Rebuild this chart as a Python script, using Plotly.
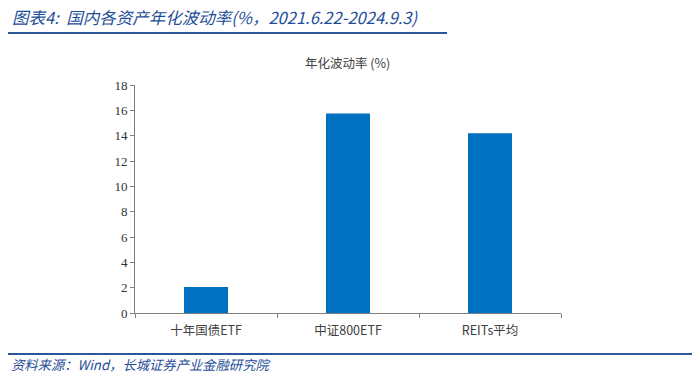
import plotly.graph_objects as go

categories = ["十年国债ETF", "中证800ETF", "REITs平均"]
volatility = [2.05, 15.75, 14.2]
y_ticks = [0, 2, 4, 6, 8, 10, 12, 14, 16, 18]

fig = go.Figure()
fig.add_trace(go.Bar(
    x=categories, y=volatility,
    marker=dict(color="#0070C0", line=dict(width=0)),
    width=0.31,
))

W, H = 700, 382
L, R = 135, 561
T, B = 85, 313
fig.update_layout(
    width=W, height=H,
    margin=dict(l=L, r=W - R, t=T, b=H - B),
    plot_bgcolor="white", paper_bgcolor="white",
    showlegend=False,
    font=dict(family="'Liberation Serif', 'Times New Roman', serif", size=12, color="#333"),
    xaxis=dict(
        showline=True, linecolor="#808080", linewidth=1,
        ticks="outside", tickson="boundaries", ticklen=4, tickcolor="#808080",
        tickfont=dict(family="'Noto Sans CJK SC'", size=12.5, color="#404040"),
        ticklabelstandoff=6,
        showgrid=False, fixedrange=True,
    ),
    yaxis=dict(
        range=[0, 18], tickvals=y_ticks,
        showline=True, linecolor="#808080", linewidth=1,
        ticks="outside", ticklen=4, tickcolor="#808080",
        tickfont=dict(family="'Liberation Serif', serif", size=13, color="#333"),
        showgrid=False, zeroline=False, fixedrange=True,
    ),
)

def px_to_paper_x(px):
    return (px - L) / (R - L)

def px_to_paper_y(py):
    return (B - py) / (B - T)

fig.layout.shapes = [
    dict(type="line", xref="paper", yref="paper",
         x0=px_to_paper_x(8), x1=px_to_paper_x(447),
         y0=px_to_paper_y(33), y1=px_to_paper_y(33),
         line=dict(color="#2B579A", width=2)),
    dict(type="line", xref="paper", yref="paper",
         x0=px_to_paper_x(8), x1=px_to_paper_x(692),
         y0=px_to_paper_y(354), y1=px_to_paper_y(354),
         line=dict(color="#2B579A", width=2)),
]

fig.add_annotation(
    text="<i>图表4:  国内各资产年化波动率(%，2021.6.22-2024.9.3)</i>",
    xref="paper", yref="paper", x=px_to_paper_x(10), y=px_to_paper_y(17),
    xanchor="left", yanchor="middle", showarrow=False,
    font=dict(family="Noto Sans CJK SC", size=16.5, color="#1F4E99"),
)
fig.add_annotation(
    text="年化波动率 (%)",
    xref="paper", yref="paper", x=px_to_paper_x(347), y=px_to_paper_y(63),
    xanchor="center", yanchor="middle", showarrow=False,
    font=dict(family="Noto Sans CJK SC", size=12.5, color="#404040"),
)
fig.add_annotation(
    text="<i>资料来源：Wind，长城证券产业金融研究院</i>",
    xref="paper", yref="paper", x=px_to_paper_x(9), y=px_to_paper_y(364),
    xanchor="left", yanchor="middle", showarrow=False,
    font=dict(family="Noto Sans CJK SC", size=13.3, color="#1F4E99"),
)

fig.write_html("out.html", config={"displayModeBar": False},
               post_script="document.body.style.margin='0';document.body.style.padding='0';")
